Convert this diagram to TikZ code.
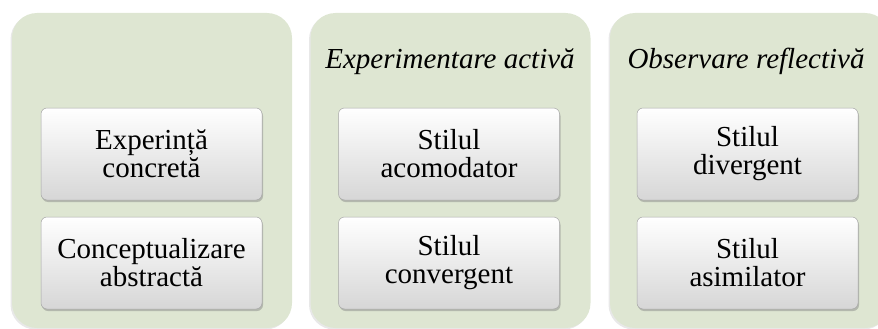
\documentclass[tikz,border=0pt]{standalone}
\usepackage{fontspec}
\setmainfont{LiberationSerif}[Extension=.ttf, UprightFont=*-Regular, BoldFont=*-Bold,
    ItalicFont=*-Italic, BoldItalicFont=*-BoldItalic]
\usetikzlibrary{shadows}
\definecolor{panelgreen}{RGB}{222,230,210}

\begin{document}
\begin{tikzpicture}[x=1pt, y=-1pt,
    panel/.style={fill=panelgreen, rounded corners=25pt, minimum width=280pt, minimum height=315pt,
        drop shadow={shadow xshift=-1.5pt, shadow yshift=-1.5pt, opacity=0.18}},
    stilbox/.style={rounded corners=6pt, top color=white, bottom color=black!16, draw=black!35, line width=0.5pt,
        minimum width=221pt, minimum height=92pt, align=center, font=\rmfamily\fontsize{29}{28}\selectfont,
        drop shadow={shadow xshift=1pt, shadow yshift=-2pt, opacity=0.45}},
    titlu/.style={font=\rmfamily\itshape\fontsize{29}{30}\selectfont}]
        \useasboundingbox (0, 0) rectangle (878, 329);
        % panouri
        \node[panel] (p1) at (152, 170.5) {};
        \node[panel] (p2) at (450.5, 170.5) {};
        \node[panel] (p3) at (750, 170.5) {};
        % titluri
        \node[titlu] (t2) at (450, 62) {Experimentare activă};
        \node[titlu] (t3) at (746, 61) {Observare reflectivă};
        % casete
        \node[stilbox] (ec) at (151.5, 154) {Experință\\concretă};
        \node[stilbox] (ca) at (151.5, 263) {Conceptualizare\\abstractă};
        \node[stilbox] (sac) at (449, 154) {Stilul\\acomodator};
        \node[stilbox] (sco) at (449, 263) {Stilul\\convergent};
        \node[stilbox] (sdi) at (747.5, 154) {Stilul\\divergent};
        \node[stilbox] (sas) at (747.5, 263) {Stilul\\asimilator};
    \end{tikzpicture}
\end{document}
